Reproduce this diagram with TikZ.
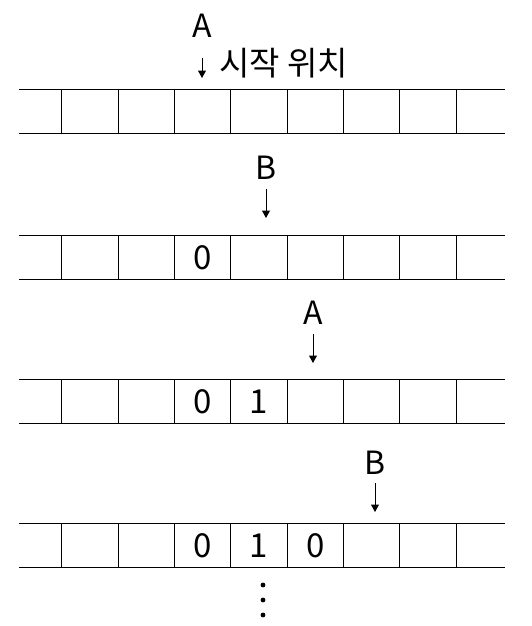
\documentclass[tikz,border=0pt]{standalone}
\usepackage{fontspec}
\setmainfont{Noto Sans CJK KR}
\usetikzlibrary{arrows.meta}
\tikzset{
  tape/.style={line width=1pt},
  digit/.style={inner sep=0pt, font=\fontsize{33}{33}\selectfont},
  lbl/.style={inner sep=0pt, font=\fontsize{32}{32}\selectfont},
  ptr/.style={-{Triangle[length=7.5pt,width=8pt]}, line width=1pt}
}
\begin{document}
\begin{tikzpicture}[x=1pt,y=-1pt]
  \useasboundingbox (0,0) rectangle (531,626);
  % four copies of the tape
  \foreach \rw/\yy in {1/89.3,2/235.7,3/379.3,4/523.3} {
    \draw[tape] (19,\yy) -- (505,\yy) (19,\yy+44) -- (505,\yy+44);
    \foreach \k in {0,...,7}
      \draw[tape] (61.7+56.33*\k,\yy) -- ++(0,44);
    \foreach \k in {0,...,6}
      \coordinate (c\rw-\k) at (61.7+56.33*\k+28.17,\yy+22);
  }

  % written values
  \node[digit] (v2a) at (c2-2) {0};
  \node[digit] (v3a) at (c3-2) {0};
  \node[digit] (v3b) at (c3-3) {1};
  \node[digit] (v4a) at (c4-2) {0};
  \node[digit] (v4b) at (c4-3) {1};
  \node[digit] (v4c) at (c4-4) {0};

  % head positions
  \node[lbl] (labA1) at (202,26) {A};
  \coordinate (tipA1) at (202,78);
  \draw[ptr, shorten <=20pt] (labA1) -- (tipA1);
  \node[lbl, anchor=west, font=\fontsize{33}{33}\selectfont] (start) at (219,63.5) {시작 위치};

  \node[lbl] (labB2) at (266,168) {B};
  \coordinate (tipB2) at (266,218);
  \draw[ptr, shorten <=9pt] (labB2) -- (tipB2);

  \node[lbl] (labA3) at (313,312.5) {A};
  \coordinate (tipA3) at (313,363);
  \draw[ptr, shorten <=10pt] (labA3) -- (tipA3);

  \node[lbl] (labB4) at (375,462.5) {B};
  \coordinate (tipB4) at (375,512);
  \draw[ptr, shorten <=9pt] (labB4) -- (tipB4);

  % more steps follow
  \foreach \yy in {585,600,615}
    \fill (263,\yy) circle (2.4);
\end{tikzpicture}
\end{document}
